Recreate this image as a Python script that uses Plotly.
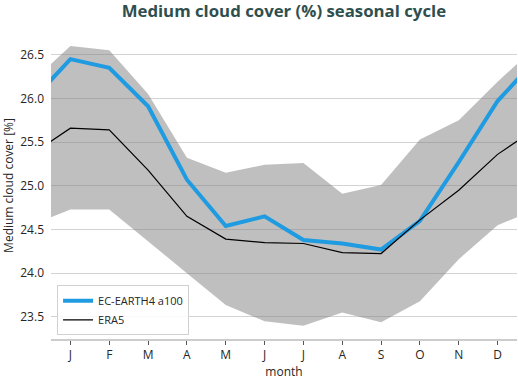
import plotly.graph_objects as go

months = [1, 2, 3, 4, 5, 6, 7, 8, 9, 10, 11, 12]
month_labels = ["J", "F", "M", "A", "M", "J", "J", "A", "S", "O", "N", "D"]

ec_earth = [26.45, 26.35, 25.91, 25.07, 24.54, 24.65, 24.38, 24.34, 24.27, 24.60, 25.27, 25.97]
era5 = [25.66, 25.64, 25.18, 24.65, 24.39, 24.35, 24.34, 24.235, 24.225, 24.61, 24.95, 25.36]
band_upper = [26.60, 26.55, 26.05, 25.32, 25.15, 25.24, 25.26, 24.91, 25.01, 25.53, 25.75, 26.19]
band_lower = [24.73, 24.73, 24.36, 24.00, 23.635, 23.45, 23.40, 23.55, 23.44, 23.68, 24.16, 24.55]


def wrap(v):
    return [v[-1]] + list(v) + [v[0]]


xw = [months[0] - 1] + months + [months[-1] + 1]

fig = go.Figure()
fig.add_trace(go.Scatter(x=xw, y=wrap(band_lower), mode="lines", line=dict(width=0),
                         showlegend=False, hoverinfo="skip"))
fig.add_trace(go.Scatter(x=xw, y=wrap(band_upper), mode="lines", line=dict(width=0),
                         fill="tonexty", fillcolor="rgba(128,128,128,0.5)",
                         showlegend=False, hoverinfo="skip"))
fig.add_trace(go.Scatter(x=xw, y=wrap(ec_earth), mode="lines", name="EC-EARTH4 a100",
                         line=dict(color="#1f9be1", width=4)))
fig.add_trace(go.Scatter(x=xw, y=wrap(era5), mode="lines", name="ERA5",
                         line=dict(color="black", width=1.2)))

font_family = "Open Sans, DejaVu Sans, sans-serif"
fig.update_layout(
    width=518, height=380,
    margin=dict(l=51, r=1, t=32, b=41),
    paper_bgcolor="white", plot_bgcolor="white",
    font=dict(family=font_family, size=12, color="#262626"),
    title=dict(text="<b>Medium cloud cover (%) seasonal cycle</b>", x=0.548, xanchor="center",
               y=0.972, yanchor="middle",
               font=dict(family=font_family, size=16.8, color="#2f4f4f")),
    legend=dict(x=0.013, y=0.012, xanchor="left", yanchor="bottom", traceorder="normal",
                bgcolor="rgba(255,255,255,0.85)", bordercolor="#d0d0d0", borderwidth=1,
                font=dict(size=11, color="#262626"), tracegroupgap=0, itemwidth=30),
    xaxis=dict(range=[0.5, 12.5], tickmode="array", tickvals=months, ticktext=month_labels,
               showgrid=False, zeroline=False, showline=True, linecolor="#cccccc", linewidth=1.5,
               ticks="outside", ticklen=4, tickcolor="#555555", tickwidth=1, automargin=False,
               title=dict(text="month", font=dict(size=12)),
               tickfont=dict(size=12)),
    yaxis=dict(range=[23.247, 26.76], tickmode="array",
               tickvals=[23.5, 24.0, 24.5, 25.0, 25.5, 26.0, 26.5],
               ticktext=["23.5", "24.0", "24.5", "25.0", "25.5", "26.0", "26.5"],
               showgrid=True, gridcolor="#d3d3d3", gridwidth=1.2, zeroline=False,
               showline=False, ticks="", ticklabelstandoff=6, automargin=False,
               title=dict(text="Medium cloud cover [%]", font=dict(size=12)),
               tickfont=dict(size=12)),
)

fig.write_html("out.html", config={"displayModeBar": False},
               post_script="document.body.style.margin='0';document.body.style.padding='0';")
